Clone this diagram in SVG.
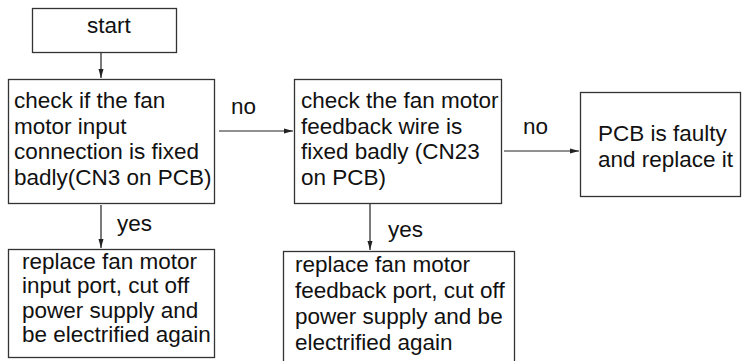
<svg xmlns="http://www.w3.org/2000/svg" width="742" height="361" viewBox="0 0 742 361">
<style>
.box{fill:#fff;stroke:#333;stroke-width:1.3}
.t{font-family:"Liberation Sans",Arial,sans-serif;font-size:22.5px;fill:#111}
.ln{stroke:#222;stroke-width:1.2;fill:none}
</style>
<defs>
<marker id="ah" markerWidth="10" markerHeight="8" refX="9" refY="4" orient="auto" markerUnits="userSpaceOnUse">
<path d="M0,1.5 L9,4 L0,6.5 Z" fill="#222"/>
</marker>
</defs>
<rect width="742" height="361" fill="#fff"/>
<g id="connectors">
<line class="ln" x1="101" y1="52" x2="101" y2="78" marker-end="url(#ah)"/>
<line class="ln" x1="219" y1="131" x2="293" y2="131" marker-end="url(#ah)"/>
<line class="ln" x1="504" y1="151" x2="579" y2="151" marker-end="url(#ah)"/>
<line class="ln" x1="101" y1="205" x2="101" y2="248" marker-end="url(#ah)"/>
<line class="ln" x1="370" y1="204" x2="370" y2="250" marker-end="url(#ah)"/>
<text class="t" x="231" y="114">no</text>
<text class="t" x="523" y="134">no</text>
<text class="t" x="117" y="231">yes</text>
<text class="t" x="388" y="237">yes</text>
</g>
<g id="start">
<rect class="box" x="32.5" y="8.5" width="144" height="44"/>
<text class="t" x="87" y="33">start</text>
</g>
<g id="check1">
<rect class="box" x="8.5" y="79.5" width="206" height="124"/>
<text class="t" x="14" y="108">check if the fan</text>
<text class="t" x="14" y="133.5">motor input</text>
<text class="t" x="14" y="159">connection is fixed</text>
<text class="t" x="14" y="184.5">badly(CN3 on PCB)</text>
</g>
<g id="check2">
<rect class="box" x="294.5" y="79.5" width="207" height="124"/>
<text class="t" x="301" y="108">check the fan motor</text>
<text class="t" x="301" y="133.5">feedback wire is</text>
<text class="t" x="301" y="159">fixed badly (CN23</text>
<text class="t" x="301" y="184.5">on PCB)</text>
</g>
<g id="pcb">
<rect class="box" x="580.5" y="92.5" width="160" height="104"/>
<text class="t" x="598" y="141">PCB is faulty</text>
<text class="t" x="598" y="166.5">and replace it</text>
</g>
<g id="replace1">
<rect class="box" x="8.5" y="249.5" width="206" height="108"/>
<text class="t" x="22" y="268.5">replace fan motor</text>
<text class="t" x="22" y="293">input port, cut off</text>
<text class="t" x="22" y="317.5">power supply and</text>
<text class="t" x="22" y="342">be electrified again</text>
</g>
<g id="replace2">
<rect class="box" x="283.5" y="251.5" width="231" height="120"/>
<text class="t" x="295" y="272">replace fan motor</text>
<text class="t" x="295" y="298">feedback port, cut off</text>
<text class="t" x="295" y="324">power supply and be</text>
<text class="t" x="295" y="350">electrified again</text>
</g>
</svg>
